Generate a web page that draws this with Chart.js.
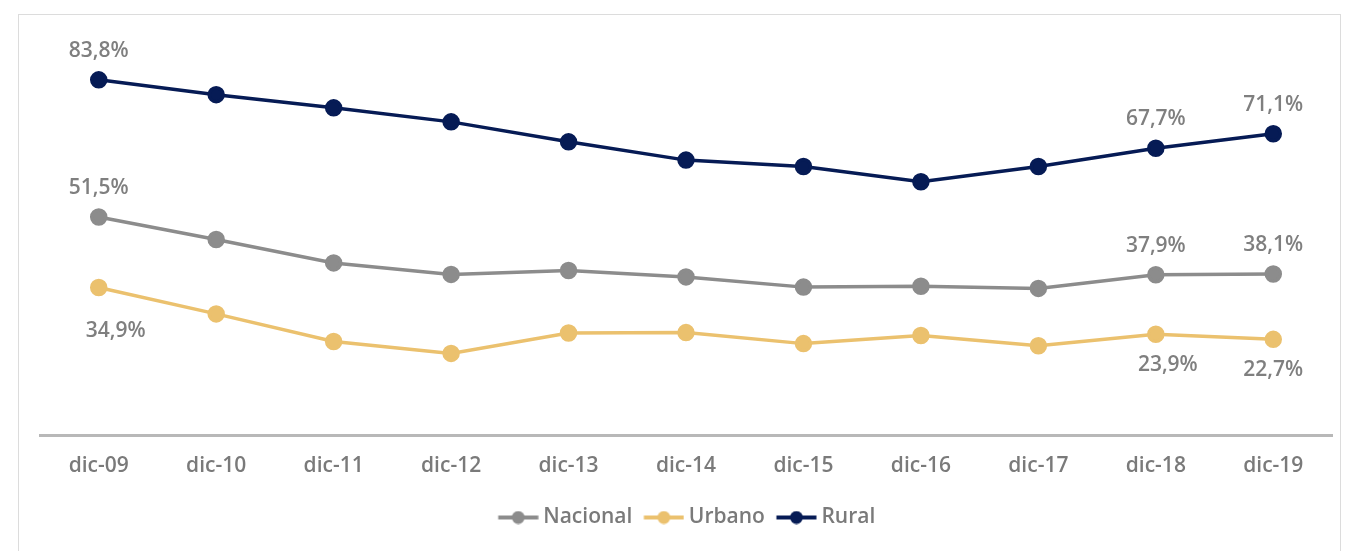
<!DOCTYPE html>
<html>
<head>
<meta charset="utf-8">
<script src="https://cdn.jsdelivr.net/npm/chart.js@4.4.0/dist/chart.umd.min.js"></script>
<style>
    html, body { margin: 0; padding: 0; background: #fff; }
    #wrap { position: relative; width: 1361px; height: 551px; overflow: hidden; }
    #frame { position: absolute; left: 18px; top: 14px; width: 1321px; height: 560px; border: 1px solid #dcdcdc; }
    #chart { position: absolute; left: 0; top: 0; }
</style>
</head>
<body>
<div id="wrap">
    <div id="frame"></div>
    <canvas id="chart" width="1361" height="551"></canvas>
</div>
<script>
    const periodos = ["dic-09", "dic-10", "dic-11", "dic-12", "dic-13", "dic-14", "dic-15", "dic-16", "dic-17", "dic-18", "dic-19"];
    const nacional = [51.5, 46.2, 40.7, 38.0, 38.9, 37.4, 35.0, 35.2, 34.7, 37.9, 38.1];
    const urbano = [34.9, 28.7, 22.2, 19.4, 24.2, 24.3, 21.7, 23.6, 21.2, 23.9, 22.7];
    const rural = [83.8, 80.3, 77.2, 73.9, 69.2, 64.9, 63.4, 59.8, 63.4, 67.7, 71.1];
    // puntos con etiqueta de valor
    const conEtiqueta = [0, 9, 10];

    const FONT = "'Open Sans', 'Noto Sans', sans-serif";

    // marcador de leyenda: línea con punto (desplazado a la derecha dentro del lienzo)
    function legendMarker(color) {
        const c = document.createElement("canvas");
        c.width = 48;
        c.height = 14;
        const ctx = c.getContext("2d");
        ctx.strokeStyle = color;
        ctx.lineWidth = 4;
        ctx.beginPath();
        ctx.moveTo(7.5, 7);
        ctx.lineTo(47.5, 7);
        ctx.stroke();
        ctx.fillStyle = color;
        ctx.beginPath();
        ctx.arc(27.5, 7, 6.5, 0, Math.PI * 2);
        ctx.fill();
        return c;
    }

    const fmt = v => v.toFixed(1).replace(".", ",") + "%";

    // etiquetas de valor
    const valueLabels = {
        id: "valueLabels",
        afterDatasetsDraw(chart) {
            const ctx = chart.ctx;
            ctx.save();
            ctx.font = "600 21px " + FONT;
            ctx.fillStyle = "#7f7f7f";
            ctx.textAlign = "center";
            ctx.textBaseline = "middle";
            chart.data.datasets.forEach((ds, di) => {
                const meta = chart.getDatasetMeta(di);
                const pos = ds.labelPos;
                conEtiqueta.forEach(i => {
                    const pt = meta.data[i];
                    let dx = 0, dy = pos === "below" ? 31 : -29;
                    if (pos === "below" && i === 0) { dx = 17; dy = 43; }
                    if (pos === "below" && i === 9) { dx = 12; }
                    ctx.fillText(fmt(ds.data[i]), pt.x + dx, pt.y + dy);
                });
            });
            ctx.restore();
        }
    };

    const colores = { nacional: "#8c8c8c", urbano: "#ebc16e", rural: "#061b55" };

    new Chart(document.getElementById("chart"), {
        type: "line",
        data: {
            labels: periodos,
            datasets: [
                {
                    label: "Nacional",
                    data: nacional,
                    borderColor: colores.nacional,
                    backgroundColor: colores.nacional,
                    borderWidth: 3.5,
                    pointRadius: 7,
                    pointHoverRadius: 7,
                    labelPos: "above"
                },
                {
                    label: "Urbano",
                    data: urbano,
                    borderColor: colores.urbano,
                    backgroundColor: colores.urbano,
                    borderWidth: 3.5,
                    pointRadius: 7,
                    pointHoverRadius: 7,
                    labelPos: "below"
                },
                {
                    label: "Rural",
                    data: rural,
                    borderColor: colores.rural,
                    backgroundColor: colores.rural,
                    borderWidth: 3.5,
                    pointRadius: 7,
                    pointHoverRadius: 7,
                    labelPos: "above"
                }
            ]
        },
        options: {
            responsive: false,
            animation: false,
            layout: {
                padding: { left: 40, right: 29, top: 11, bottom: 13 }
            },
            plugins: {
                tooltip: { enabled: false },
                legend: {
                    position: "bottom",
                    labels: {
                        usePointStyle: true,
                        pointStyleWidth: 36,
                        padding: 10,
                        color: "#7a7a7a",
                        font: { family: FONT, size: 21, weight: "600" },
                        generateLabels(chart) {
                            return chart.data.datasets.map((ds, i) => ({
                                text: ds.label,
                                fillStyle: ds.borderColor,
                                strokeStyle: ds.borderColor,
                                fontColor: "#7a7a7a",
                                pointStyle: legendMarker(ds.borderColor),
                                hidden: false,
                                lineWidth: 0,
                                datasetIndex: i
                            }));
                        }
                    }
                }
            },
            scales: {
                x: {
                    offset: true,
                    grid: { display: true, color: "transparent", drawTicks: false },
                    border: { display: true, color: "#b8b8b8", width: 3 },
                    ticks: {
                        padding: 18,
                        color: "#7a7a7a",
                        font: { family: FONT, size: 21, weight: "600" }
                    }
                },
                y: {
                    display: false,
                    min: 0,
                    max: 100
                }
            }
        },
        plugins: [valueLabels]
    });
</script>
</body>
</html>
